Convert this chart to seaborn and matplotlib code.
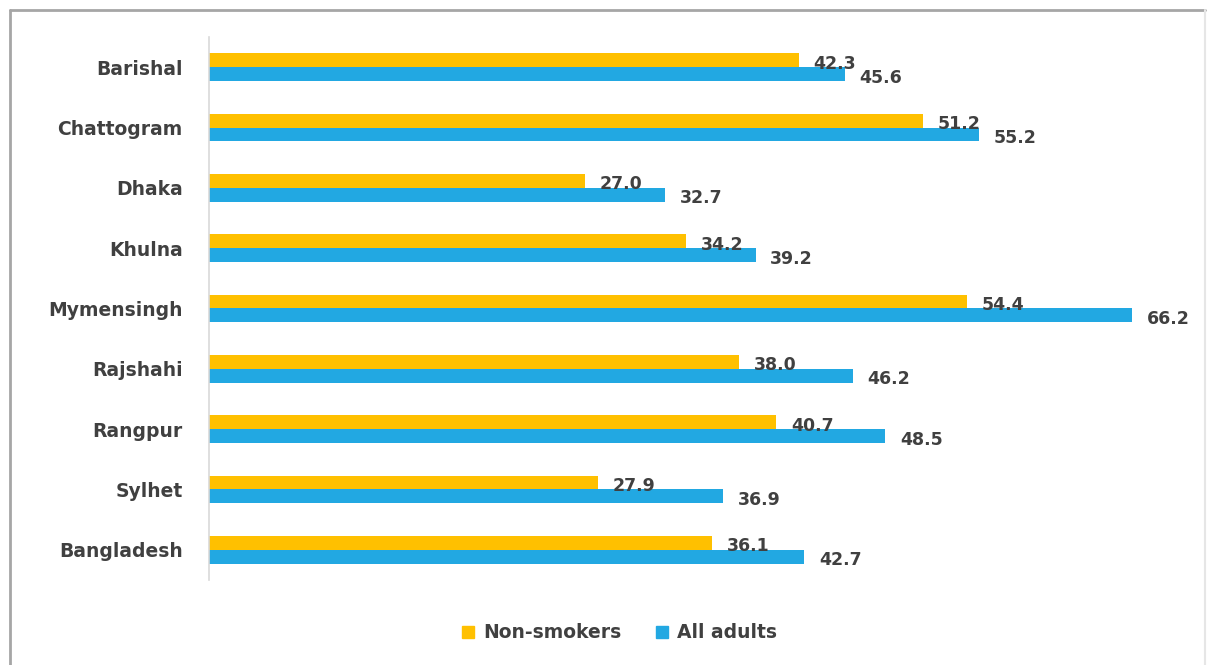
import matplotlib
matplotlib.use("Agg")
import matplotlib.pyplot as plt
from matplotlib.lines import Line2D
import seaborn as sns
import pandas as pd

divisions = ["Barishal", "Chattogram", "Dhaka", "Khulna", "Mymensingh",
             "Rajshahi", "Rangpur", "Sylhet", "Bangladesh"]
non_smokers = [42.3, 51.2, 27.0, 34.2, 54.4, 38.0, 40.7, 27.9, 36.1]
all_adults = [45.6, 55.2, 32.7, 39.2, 66.2, 46.2, 48.5, 36.9, 42.7]
series_names = ["Non-smokers", "All adults"]
series_colors = ["#FFC000", "#22A8E2"]
text_color = "#404040"

df = pd.DataFrame({
    "division": divisions * 2,
    "value": non_smokers + all_adults,
    "group": [series_names[0]] * len(divisions) + [series_names[1]] * len(divisions),
})

sns.set_theme(style="white")
plt.rcParams["font.family"] = ["DejaVu Sans"]

W, H = 1211, 665
fig = plt.figure(figsize=(W / 100, H / 100), dpi=100)
ax = fig.add_axes([209 / W, (H - 580) / H, 976 / W, 543 / H])

sns.barplot(data=df, x="value", y="division", hue="group", order=divisions,
            hue_order=series_names, palette=series_colors, orient="h",
            width=0.46, saturation=1, ax=ax, legend=False, linewidth=0)

# value labels at the end of each bar, nudged slightly downward
for cont in ax.containers:
    labels = ax.bar_label(cont, fmt="%.1f", padding=11, fontsize=12.5,
                          fontweight="bold", color=text_color)
    for t in labels:
        t.xyann = (10.5, -2.5)

ax.set_xlim(0, 70)
ax.set_ylim(8.5, -0.5)
ax.set_xlabel("")
ax.set_ylabel("")
ax.set_xticks([])
for side in ["top", "right", "bottom"]:
    ax.spines[side].set_visible(False)
ax.spines["left"].set_color("#D9D9D9")
ax.spines["left"].set_linewidth(1.2)
ax.tick_params(axis="y", length=0, pad=19)
for lbl in ax.get_yticklabels():
    lbl.set_fontsize(13.5)
    lbl.set_fontweight("bold")
    lbl.set_color(text_color)

handles = [Line2D([0], [0], marker="s", linestyle="none", markersize=9,
                  markerfacecolor=c, markeredgecolor=c) for c in series_colors]
leg = fig.legend(handles, series_names, loc="center", bbox_to_anchor=(617 / W, 1 - 633 / H),
                 ncol=2, frameon=False, handletextpad=0.2, columnspacing=1.6,
                 handlelength=1.2, prop={"weight": "bold", "size": 13.5})
for t in leg.get_texts():
    t.set_color(text_color)

# outer chart frame
fig.add_artist(Line2D([10 / W, 10 / W], [0, 1 - 10 / H], transform=fig.transFigure,
                      color="#A6A6A6", lw=2))
fig.add_artist(Line2D([10 / W, 1205 / W], [1 - 10 / H, 1 - 10 / H], transform=fig.transFigure,
                      color="#A6A6A6", lw=2))
fig.add_artist(Line2D([1205 / W, 1205 / W], [0, 1 - 10 / H], transform=fig.transFigure,
                      color="#E6E6E6", lw=1.5))

fig.savefig("out.png", dpi=100)
